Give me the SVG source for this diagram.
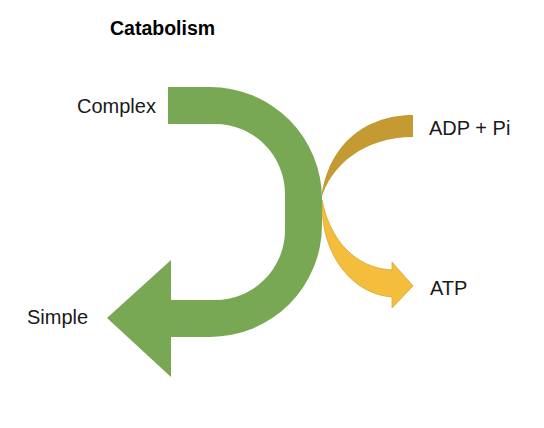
<svg xmlns="http://www.w3.org/2000/svg" width="544" height="428" viewBox="0 0 544 428">
  <style>
    .lbl { font-family: "Liberation Sans", Arial, sans-serif; font-size: 20px; fill: #1a1a1a; }
    .title { font-family: "Liberation Sans", Arial, sans-serif; font-size: 19.5px; font-weight: bold; fill: #000; }
  </style>
  <rect width="544" height="428" fill="#ffffff"/>
  <g id="title"><text class="title" x="110" y="35">Catabolism</text></g>
  <g id="connectors">
    <path id="adp-band" d="M413,115 C370,115 328,140 321,200 C330,165 365,137 413,137 Z" fill="#C49A33"/>
    <path id="atp-arrow" d="M322,200 C330,240 355,268 392,270 L392,262 L413,286 L392,308 L392,297 C352,294 322,255 322,205 Z" fill="#F4BD3C" stroke="#D9A732" stroke-width="0.8"/>
    <path id="green-arrow" d="M168,87 L210,87 A112,112 0 0 1 322,199 L322,225 A112,112 0 0 1 210,337 L171,337 L171,377 L107,318 L171,260 L171,300 L215,300 A70,70 0 0 0 285,230 L285,194 A70,70 0 0 0 215,124 L168,124 Z" fill="#78A854"/>
  </g>
  <g id="complex"><text class="lbl" x="77" y="113">Complex</text></g>
  <g id="simple"><text class="lbl" x="27" y="324">Simple</text></g>
  <g id="adp"><text class="lbl" x="429" y="135">ADP + Pi</text></g>
  <g id="atp"><text class="lbl" x="430" y="295">ATP</text></g>
</svg>
